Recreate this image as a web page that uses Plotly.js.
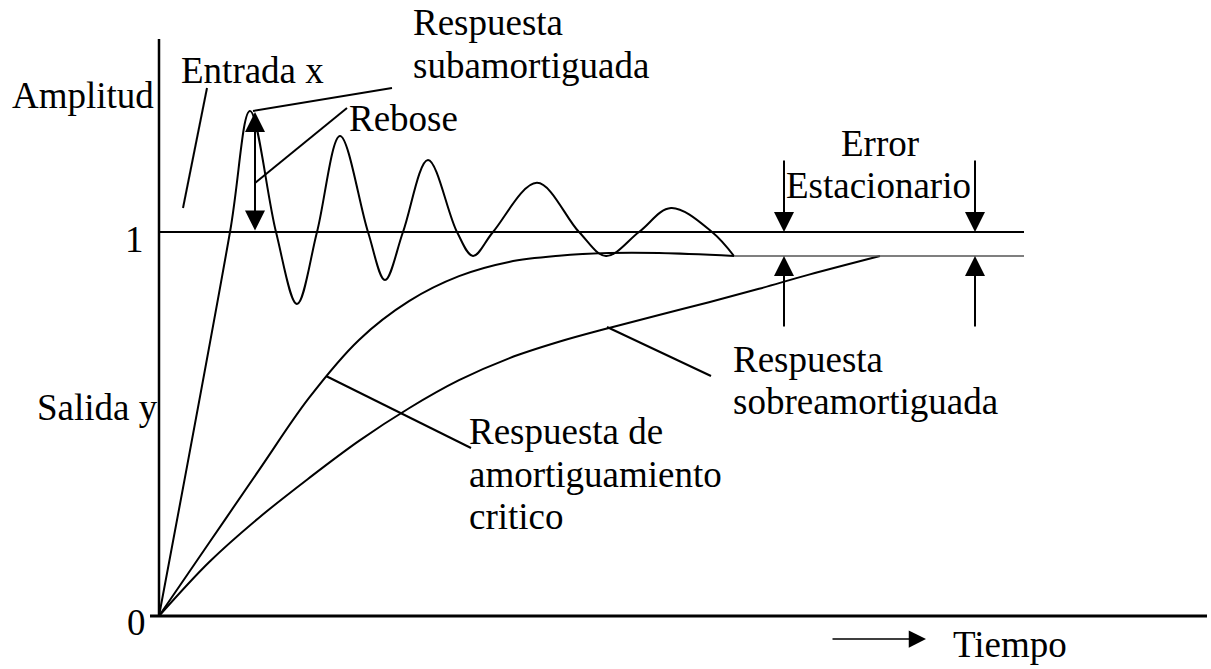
<!DOCTYPE html>
<html>
<head>
<meta charset="utf-8">
<script src="https://cdn.plot.ly/plotly-3.0.1.min.js"></script>
<style>
  html, body { margin: 0; padding: 0; background: #fff; }
  #chart { width: 1211px; height: 669px; }
</style>
</head>
<body>
<div id="chart"></div>
<script>
// tiempo (unidades arbitrarias) y amplitud (1 = entrada)
const subT = [0, 0.71, 0.91, 1.17, 1.38, 1.58, 1.81, 2.09, 2.26, 2.44, 2.69, 2.98, 3.14, 3.34, 3.78, 4.20, 4.47, 4.80, 5.12, 5.53, 5.75];
const subY = [0, 1.0, 1.315, 1.0, 0.8125, 1.0, 1.25, 1.0, 0.875, 1.0, 1.1875, 1.0, 0.9375, 1.0, 1.128, 1.0, 0.9375, 1.0, 1.0625, 1.0, 0.9375];

const critT = [0, 0.5, 1.0, 1.5, 2.0, 2.5, 3.0, 3.5, 4.0, 4.5, 5.0, 5.75];
const critY = [0, 0.190, 0.380, 0.568, 0.719, 0.820, 0.885, 0.922, 0.938, 0.945, 0.945, 0.9375];

const sobreT = [0, 0.5, 1.0, 1.5, 2.0, 2.5, 3.0, 3.5, 4.0, 4.5, 5.0, 5.5, 6.0, 6.5, 7.21];
const sobreY = [0, 0.140, 0.256, 0.359, 0.456, 0.541, 0.614, 0.671, 0.714, 0.750, 0.784, 0.817, 0.852, 0.889, 0.9375];

const entrada = 1;
const valorFinal = 0.9375;
const tFinal = 8.65;
const tEstable = 5.75;

// pixel -> unidades del grafico (solo para textos y guias)
const tx = p => (p - 159) / 100;
const ay = p => (616 - p) / 384;

const FONT = 'Liberation Serif, Times New Roman, serif';
const line = (w, c) => ({ color: c || '#000', width: w });
const curva = s => ({ color: '#000', width: 2, shape: 'spline', smoothing: s });

const traces = [
  { x: subT, y: subY, mode: 'lines', line: curva(1) },
  { x: critT, y: critY, mode: 'lines', line: curva(1) },
  { x: sobreT, y: sobreY, mode: 'lines', line: curva(1) },
  { x: [0, tFinal], y: [entrada, entrada], mode: 'lines', line: line(2) },
  { x: [tEstable, tFinal], y: [valorFinal, valorFinal], mode: 'lines', line: line(1.5, '#555') },
  // ejes
  { x: [0, 0], y: [0, ay(39)], mode: 'lines', line: line(2.5) },
  { x: [tx(150), tx(1207)], y: [0, 0], mode: 'lines', line: line(3) }
];

// lineas guia de los textos
const guias = [
  [207, 88, 183, 208],
  [392, 88, 253, 111],
  [347, 108, 255, 183],
  [326, 376, 471, 448],
  [607, 327, 711, 376]
];
const shapes = guias.map(g => ({
  type: 'line', xref: 'x', yref: 'y',
  x0: tx(g[0]), y0: ay(g[1]), x1: tx(g[2]), y1: ay(g[3]),
  line: line(2)
}));

// textos: [texto, x, linea base, ancla]
const textos = [
  ['Amplitud', 10, 108, 'left'],
  ['Entrada x', 179, 83, 'left'],
  ['Respuesta', 411, 35, 'left'],
  ['subamortiguada', 411, 78, 'left'],
  ['Rebose', 347, 131, 'left'],
  ['Error', 880, 156, 'center'],
  ['Estacionario', 878, 198, 'center'],
  ['1', 146, 252, 'right'],
  ['0', 148, 635, 'right'],
  ['Salida y', 35, 420, 'left'],
  ['Respuesta de', 467, 444, 'left'],
  ['amortiguamiento', 467, 487, 'left'],
  ['critico', 467, 529, 'left'],
  ['Respuesta', 731, 372, 'left'],
  ['sobreamortiguada', 731, 414, 'left'],
  ['Tiempo', 951, 657, 'left']
];
const annotations = textos.map(t => ({
  text: t[0], xref: 'x', yref: 'y',
  x: tx(t[1]), y: ay(t[2] - 12.5),
  xanchor: t[3], yanchor: 'middle', showarrow: false,
  font: { family: FONT, size: 37, color: '#000' }
}));

// flechas: [x cola, y cola, x punta, y punta]
const flechas = [
  [784, 159, 784, 232],
  [975, 159, 975, 232],
  [784, 328, 784, 256],
  [975, 328, 975, 256]
];
flechas.forEach(f => annotations.push({
  text: '', xref: 'x', yref: 'y', axref: 'x', ayref: 'y',
  ax: tx(f[0]), ay: ay(f[1]), x: tx(f[2]), y: ay(f[3]),
  showarrow: true, arrowhead: 2, arrowsize: 2, arrowwidth: 2, arrowcolor: '#000', standoff: 0
}));
// rebose (doble flecha)
annotations.push({
  text: '', xref: 'x', yref: 'y', axref: 'x', ayref: 'y',
  ax: tx(255), ay: ay(232), x: tx(255), y: ay(112),
  showarrow: true, arrowside: 'end+start', arrowhead: 2, startarrowhead: 2,
  arrowsize: 2, startarrowsize: 2, arrowwidth: 2, arrowcolor: '#000', standoff: 0, startstandoff: 0
});
// flecha del tiempo
annotations.push({
  text: '', xref: 'x', yref: 'y', axref: 'x', ayref: 'y',
  ax: tx(831), ay: ay(639), x: tx(926), y: ay(639),
  showarrow: true, arrowhead: 2, arrowsize: 2.3, arrowwidth: 1.5, arrowcolor: '#000', standoff: 0
});

const layout = {
  width: 1211, height: 669,
  margin: { l: 0, r: 0, t: 0, b: 0, pad: 0 },
  paper_bgcolor: '#fff', plot_bgcolor: '#fff',
  showlegend: false,
  xaxis: { range: [tx(0), tx(1211)], visible: false, fixedrange: true },
  yaxis: { range: [ay(669), ay(0)], visible: false, fixedrange: true },
  shapes: shapes,
  annotations: annotations
};

Plotly.newPlot('chart', traces, layout, { staticPlot: true });
</script>
</body>
</html>
